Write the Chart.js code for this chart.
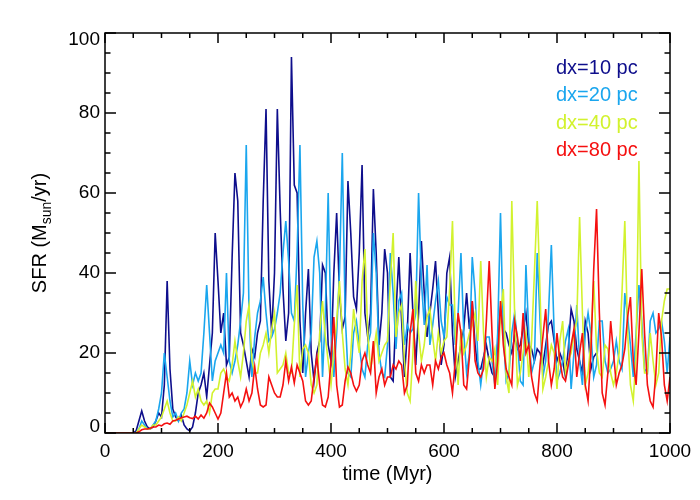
<!DOCTYPE html>
<html>
<head>
<meta charset="utf-8">
<script src="https://cdn.jsdelivr.net/npm/chart.js@4.4.1/dist/chart.umd.min.js"></script>
<style>
  body { margin: 0; background: #fff; }
</style>
</head>
<body>
<canvas id="sfr" width="700" height="500"></canvas>
<script>
// time grid, 5 Myr apart (0 .. 1000)
var times = [];
for (var i = 0; i <= 200; i++) times.push(i * 5);

// SFR (Msun/yr), one value per time step
var sfr10 = [
    0,0,0,0,0,0,0,0,0,0,
    0,0.5,3,5.5,3,1.5,1,1.5,3,5,
    4,12,38,16,6,4,3,4.5,2,1,
    0.5,1.5,5,10,12,15,9,17,25,50,
    38,25,30,17,19,44,65,58,25,22,
    18,14,21,19,25,28,58,81,38,25,
    40,81,56,36,23,30,94,62,60,28,
    15,30,41,20,13,20,23,42,40,22,
    18,40,55,35,26,29,63,50,34,31,
    45,67,30,24,30,61,45,22,30,46,
    40,14,13,30,44,28,14,25,45,30,
    17,30,48,35,24,30,36,43,30,17,
    22,40,44,25,14,18,22,26,35,26,
    33,22,16,16,19,22,18,15,14,22,
    31,26,25,22,20,24,21,22,26,30,
    22,21,18,21,20,17,22,27,28,23,
    18,20,18,14,21,31,28,21,18,15,
    28,25,16,19,20,null,null,null,null,null,
    null,null,null,null,null,null,null,null,null,null,
    null,null,null,null,null,null,null,null,null,null,
    null
];
var sfr20 = [
    0,0,0,0,0,0,0,0,0,0,
    0,0,1,3,2,1,1,2,3,6,
    10,20,14,8,4,5,3,5,6,10,
    18,12,15,13,15,25,37,25,13,18,
    20,22,20,40,18,15,18,22,28,35,
    72,30,14,24,30,33,39,30,23,24,
    26,30,35,45,53,43,30,28,45,72,
    32,14,20,25,44,48,40,14,30,60,
    25,14,25,40,70,30,15,14,25,28,
    22,16,14,22,25,50,40,20,15,14,
    22,45,35,21,33,35,22,27,25,26,
    30,60,38,27,42,22,27,33,38,28,
    24,34,32,32,22,30,45,25,15,20,
    44,35,18,12,18,24,24,18,12,25,
    55,25,13,15,25,30,23,13,12,42,
    25,15,18,45,28,14,18,30,47,25,
    13,15,18,23,26,11,20,32,18,12,
    25,30,25,14,17,28,28,18,15,16,
    18,23,18,16,35,29,22,14,25,37,
    28,16,15,28,30,25,26,28,23,15,
    24
];
var sfr40 = [
    0,0,0,0,0,0,0,0,0,0,
    0,0,1,2,1.5,1,1,2,2,3,
    4,6,8,5,3,3,4,3,5,7,
    10,13,9,11,8,7,8,5,10,11,
    11,15,16,14,13,17,23,18,14,20,
    28,32,18,15,15,20,22,25,20,26,
    30,15,16,17,20,15,15,27,37,14,
    21,22,20,12,10,12,25,33,24,18,
    12,20,28,38,25,16,12,20,31,25,
    20,38,46,25,16,20,25,18,20,22,
    23,38,50,24,30,32,18,10,8,20,
    38,25,18,22,29,31,24,18,25,20,
    23,24,36,53,25,12,26,20,22,25,
    27,30,23,43,25,14,19,18,21,12,
    30,36,14,10,58,30,12,15,20,25,
    14,23,40,58,35,11,14,18,22,20,
    11,23,28,15,18,20,25,28,54,30,
    12,15,23,38,21,15,14,22,21,15,
    12,15,20,35,53,25,12,8,20,68,
    25,15,15,25,18,12,15,28,33,36,
    36
];
var sfr80 = [
    0,0,0,0,0,0,0,0,0,0,
    0,0,0.3,0.8,1,1,1.2,1.5,1.5,2,
    1.8,2.3,2.5,2.2,3,3.2,3.5,3.8,4,4.2,
    3.8,3.6,4.2,3.5,4.5,3.7,5,7.5,6.5,5,
    3.5,5,10,15,9,10,8,9,6.5,8,
    11,8,10,16.6,11,7,6.5,7,14,12,
    10,9,9,12,18,13,16.5,12.5,17,15,
    13,8,7,8,14,19,12,7,6.5,9,
    18,29,12,6.5,7,13,16.5,15,12,10.5,
    12,18,20,17,15,23,10,14,16,12,
    14,14,17,16,18,17,10,12,25,31,
    15,13,17,15,17,17,12,18,16,19,
    20,17,15,10,18,30,25,12,11,19,
    33,18,15,14,16,28,43,25,11,18,
    33,22,16,14,12,28,24,18,30,20,
    22,14,10,8,17,24,31,18,12,16,
    25,18,14,13,17,22,26,14,20,25,
    12,8,20,41,56,30,10,7,15,28,
    20,12,15,17,21,29,34,18,12,25,
    41,25,12,8,6.5,15,30,24,12,8,
    14
];

var runNames = ['dx=10 pc', 'dx=20 pc', 'dx=40 pc', 'dx=80 pc'];
var runColors = ['#0e0e8c', '#1aa6ee', '#d2f22e', '#f51010'];
var xTicks = [0, 200, 400, 600, 800, 1000];
var yTicks = [0, 20, 40, 60, 80, 100];

var font = "'Liberation Sans', Arial, Helvetica, sans-serif";
Chart.defaults.font.family = font;
Chart.defaults.color = '#000';

// box with inward ticks on all sides, y labels, y title with subscript, text legend
var frame = {
    id: 'frame',
    afterDraw: function(chart) {
        var ctx = chart.ctx, a = chart.chartArea;
        var x = chart.scales.x, y = chart.scales.y;
        var t, v, p, len, k;
        ctx.save();
        ctx.strokeStyle = '#000';
        ctx.lineWidth = 1.5;
        ctx.strokeRect(a.left, a.top, a.right - a.left, a.bottom - a.top);
        ctx.beginPath();
        for (t = 0; t <= 1000; t += 50) {
            p = x.getPixelForValue(t);
            len = xTicks.indexOf(t) >= 0 ? 10 : 5;
            ctx.moveTo(p, a.bottom); ctx.lineTo(p, a.bottom - len);
            ctx.moveTo(p, a.top); ctx.lineTo(p, a.top + len);
        }
        for (v = 0; v <= 100; v += 5) {
            p = y.getPixelForValue(v);
            len = yTicks.indexOf(v) >= 0 ? 11 : 5.5;
            ctx.moveTo(a.left, p); ctx.lineTo(a.left + len, p);
            ctx.moveTo(a.right, p); ctx.lineTo(a.right - len, p);
        }
        ctx.stroke();

        // y tick labels, the end ones pulled inside the box like the original
        ctx.fillStyle = '#000';
        ctx.font = '19px ' + font;
        ctx.textAlign = 'right';
        ctx.textBaseline = 'middle';
        for (k = 0; k < yTicks.length; k++) {
            var shift = yTicks[k] === 0 ? -6 : (yTicks[k] === 100 ? 7 : 0);
            ctx.fillText(String(yTicks[k]), a.left - 5, y.getPixelForValue(yTicks[k]) + shift);
        }

        // y axis title: SFR (M_sun/yr)
        var big = '20px ' + font, small = '14px ' + font;
        var parts = [['SFR (M', big, 0], ['sun', small, 5], ['/yr)', big, 0]];
        var total = 0;
        for (k = 0; k < parts.length; k++) {
            ctx.font = parts[k][1];
            total += ctx.measureText(parts[k][0]).width;
        }
        ctx.translate(46, (a.top + a.bottom) / 2);
        ctx.rotate(-Math.PI / 2);
        ctx.textAlign = 'left';
        ctx.textBaseline = 'alphabetic';
        var cx = -total / 2;
        for (k = 0; k < parts.length; k++) {
            ctx.font = parts[k][1];
            ctx.fillText(parts[k][0], cx, parts[k][2]);
            cx += ctx.measureText(parts[k][0]).width;
        }
        ctx.restore();

        ctx.save();
        ctx.font = '20px ' + font;
        ctx.textBaseline = 'middle';
        ctx.textAlign = 'left';
        for (k = 0; k < runNames.length; k++) {
            ctx.fillStyle = runColors[k];
            ctx.fillText(runNames[k], 556, 68 + k * 27.5);
        }
        ctx.restore();
    }
};

var series = [sfr10, sfr20, sfr40, sfr80];
var datasets = series.map(function(d, k) {
    return {
        label: runNames[k],
        data: d,
        borderColor: runColors[k],
        borderWidth: 1.6,
        pointRadius: 0,
        tension: 0,
        spanGaps: false,
        order: series.length - k
    };
});

new Chart(document.getElementById('sfr'), {
    type: 'line',
    data: { labels: times, datasets: datasets },
    options: {
        responsive: false,
        animation: false,
        layout: { padding: { top: 33, right: 30, left: 0, bottom: 0 } },
        plugins: { legend: { display: false }, tooltip: { enabled: false } },
        scales: {
            x: {
                type: 'linear',
                min: 0, max: 1000,
                grid: { display: false, drawTicks: false },
                border: { display: false },
                afterBuildTicks: function(s) { s.ticks = xTicks.map(function(v) { return { value: v }; }); },
                ticks: {
                    padding: 7, font: { size: 19 }, maxRotation: 0, color: '#000',
                    callback: function(v) { return String(v); }
                },
                title: { display: true, text: 'time (Myr)', font: { size: 20 }, padding: { top: 0, bottom: 14 }, color: '#000' },
                afterFit: function(s) { s.height = 67; }
            },
            y: {
                min: 0, max: 100,
                grid: { display: false, drawTicks: false },
                border: { display: false },
                afterBuildTicks: function(s) { s.ticks = yTicks.map(function(v) { return { value: v }; }); },
                ticks: { display: false },
                afterFit: function(s) { s.width = 105; }
            }
        }
    },
    plugins: [frame]
});
</script>
</body>
</html>
